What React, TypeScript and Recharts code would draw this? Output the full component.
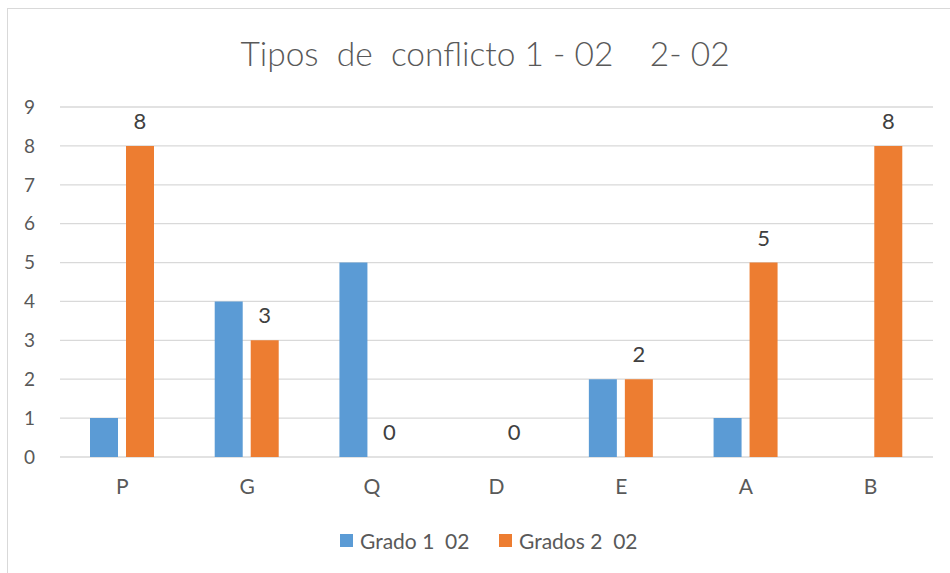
import React from 'react';
import { BarChart, Bar, XAxis, YAxis, CartesianGrid, LabelList } from 'recharts';

const categories = ['P', 'G', 'Q', 'D', 'E', 'A', 'B'];
const grado1 = [1, 4, 5, 0, 2, 1, 0];
const grados2 = [8, 3, 0, 0, 2, 5, 8];
const yTicks = [0, 1, 2, 3, 4, 5, 6, 7, 8, 9];
const seriesNames = ['Grado 1  02', 'Grados 2  02'];
const title = 'Tipos  de  conflicto 1 - 02    2- 02';

const BLUE = '#5B9BD5';
const ORANGE = '#ED7D31';
const TEXT = '#595959';
const FONT = 'Lato, "Open Sans", sans-serif';

const data = categories.map((c, i) => ({ name: c, g1: grado1[i], g2: grados2[i] }));

const renderTopLabel = (props: any) => {
  const { x, y, width, height, value } = props;
  const cx = Number(x) + Number(width) / 2;
  const top = Math.min(Number(y), Number(y) + Number(height));
  const yy = top - 17;
  return (
    <text
      x={cx}
      y={yy}
      textAnchor="middle"
      fill="#404040"
      fontSize={22}
      fontFamily={FONT}
    >
      {String(value)}
    </text>
  );
};

export default function App() {
  return (
    <div
      style={{
        position: 'fixed',
        left: 0,
        top: 0,
        width: 950,
        height: 573,
        overflow: 'hidden',
        background: '#fff',
        fontFamily: FONT,
      }}
    >
      <div
        style={{
          position: 'absolute',
          left: 7,
          top: 8,
          width: 980,
          height: 620,
          border: '1px solid #d9d9d9',
          boxSizing: 'border-box',
        }}
      />
      <div
        style={{
          position: 'absolute',
          left: 0,
          width: 970,
          top: 33,
          textAlign: 'center',
          fontSize: 33.5,
          fontWeight: 300,
          color: TEXT,
          whiteSpace: 'pre',
          lineHeight: '40px',
        }}
      >
        {title}
      </div>
      <div style={{ position: 'absolute', left: 0, top: 0 }}>
        <BarChart
          width={950}
          height={573}
          data={data}
          margin={{ top: 107, right: 17, bottom: 76, left: 0 }}
          barSize={28}
          barGap={8}
        >
          <CartesianGrid vertical={false} stroke="#d9d9d9" strokeWidth={1.3} />
          <XAxis
            dataKey="name"
            axisLine={false}
            tickLine={false}
            tickSize={0}
            tickMargin={22}
            height={40}
            tick={{ fill: TEXT, fontSize: 21, fontFamily: FONT }}
          />
          <YAxis
            domain={[0, 9]}
            ticks={yTicks}
            interval={0}
            axisLine={false}
            tickLine={false}
            tickSize={0}
            tickMargin={25}
            width={60}
            tick={{ fill: TEXT, fontSize: 19, fontFamily: FONT }}
          />
          <Bar dataKey="g1" name={seriesNames[0]} fill={BLUE} isAnimationActive={false} />
          <Bar
            dataKey="g2"
            name={seriesNames[1]}
            fill={ORANGE}
            minPointSize={0.01}
            isAnimationActive={false}
          >
            <LabelList dataKey="g2" position="top" content={renderTopLabel} />
          </Bar>
        </BarChart>
      </div>
      <div style={{ position: 'absolute', left: 340, top: 534, width: 13, height: 13, background: BLUE }} />
      <div
        style={{
          position: 'absolute',
          left: 360,
          top: 528,
          fontSize: 21,
          lineHeight: '26px',
          color: TEXT,
          whiteSpace: 'pre',
        }}
      >
        {seriesNames[0]}
      </div>
      <div style={{ position: 'absolute', left: 499, top: 534, width: 13, height: 13, background: ORANGE }} />
      <div
        style={{
          position: 'absolute',
          left: 519,
          top: 528,
          fontSize: 21,
          lineHeight: '26px',
          color: TEXT,
          whiteSpace: 'pre',
        }}
      >
        {seriesNames[1]}
      </div>
    </div>
  );
}
